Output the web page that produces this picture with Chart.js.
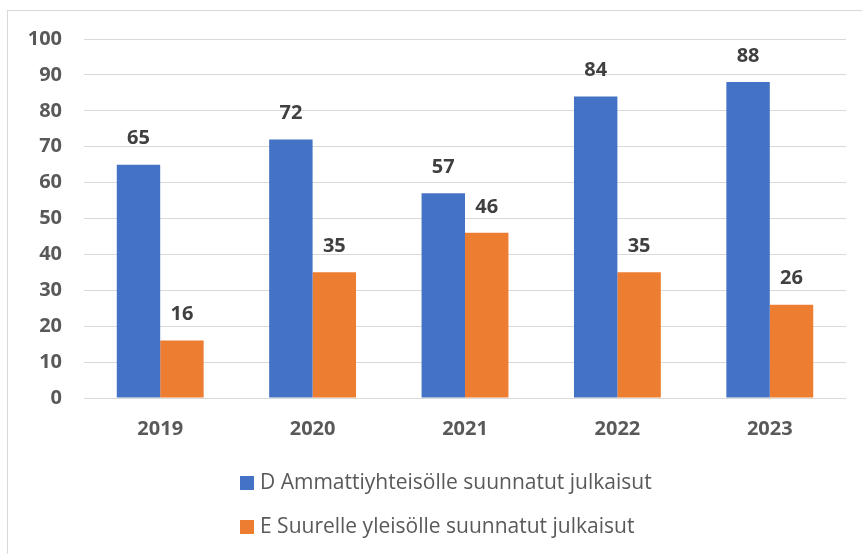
<!DOCTYPE html>
<html>
<head>
<meta charset="utf-8">
<script src="https://cdn.jsdelivr.net/npm/chart.js@4.4.0/dist/chart.umd.min.js"></script>
<style>
  html, body { margin: 0; padding: 0; background: #fff; overflow: hidden; }
  #frame {
    position: absolute; left: 7px; top: 10px;
    width: 900px; height: 600px;
    border: 1px solid #d9d9d9;
  }
  #chart { position: absolute; left: 0; top: 0; }
</style>
</head>
<body>
<div id="frame"></div>
<canvas id="chart" width="862" height="554"></canvas>
<script>
const years = ['2019', '2020', '2021', '2022', '2023'];
const ammattiyhteiso = [65, 72, 57, 84, 88];
const suurelleYleisolle = [16, 35, 46, 35, 26];
const yTicks = [0, 10, 20, 30, 40, 50, 60, 70, 80, 90, 100];

const FONT = '"Open Sans", sans-serif';

// value labels above each bar
const barLabels = {
  id: 'barLabels',
  afterDatasetsDraw(chart) {
    const ctx = chart.ctx;
    ctx.save();
    ctx.font = 'bold 20px ' + FONT;
    ctx.fillStyle = '#404040';
    ctx.textAlign = 'center';
    ctx.textBaseline = 'middle';
    chart.data.datasets.forEach((ds, i) => {
      chart.getDatasetMeta(i).data.forEach((bar, j) => {
        ctx.fillText(ds.data[j], bar.x, bar.y - 26);
      });
    });
    ctx.restore();
  }
};

// stacked legend under the plot, left aligned
const stackedLegend = {
  id: 'stackedLegend',
  afterDraw(chart) {
    const ctx = chart.ctx;
    ctx.save();
    ctx.font = '21px ' + FONT;
    ctx.textBaseline = 'middle';
    ctx.textAlign = 'left';
    chart.data.datasets.forEach((ds, i) => {
      const y = 483 + i * 44;
      ctx.fillStyle = ds.backgroundColor;
      ctx.fillRect(240, y - 7, 14, 14);
      ctx.fillStyle = '#595959';
      ctx.fillText(ds.label, 260, y);
    });
    ctx.restore();
  }
};

new Chart(document.getElementById('chart'), {
  type: 'bar',
  data: {
    labels: years,
    datasets: [
      {
        label: 'D Ammattiyhteisölle suunnatut julkaisut',
        data: ammattiyhteiso,
        backgroundColor: '#4472C4'
      },
      {
        label: 'E Suurelle yleisölle suunnatut julkaisut',
        data: suurelleYleisolle,
        backgroundColor: '#ED7D31'
      }
    ]
  },
  options: {
    responsive: false,
    animation: false,
    layout: { padding: { top: 39, right: 16, bottom: 106, left: 0 } },
    datasets: { bar: { categoryPercentage: 0.57, barPercentage: 1.0 } },
    plugins: {
      legend: { display: false },
      tooltip: { enabled: false }
    },
    scales: {
      x: {
        grid: { display: false, drawTicks: false },
        border: { display: false },
        ticks: {
          color: '#595959',
          font: { family: FONT, size: 20, weight: 'bold' },
          padding: 19
        },
        afterFit(scale) { scale.height = 50; }
      },
      y: {
        min: 0,
        max: 100,
        afterBuildTicks(scale) { scale.ticks = yTicks.map(v => ({ value: v })); },
        grid: { color: '#d9d9d9', lineWidth: 1, drawTicks: false },
        border: { display: false },
        ticks: {
          color: '#595959',
          font: { family: FONT, size: 20, weight: 'bold' },
          padding: 22
        },
        afterFit(scale) { scale.width = 84; }
      }
    }
  },
  plugins: [barLabels, stackedLegend]
});
</script>
</body>
</html>
